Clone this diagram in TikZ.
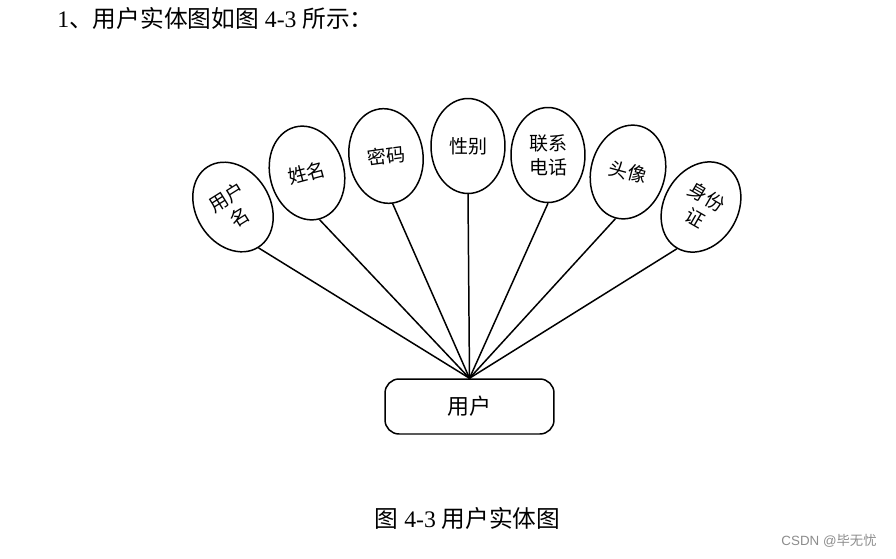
\documentclass[tikz,border=0pt]{standalone}
\usepackage{fontspec}
\setmainfont{Liberation Serif}
\newfontfamily\cjk{Noto Sans CJK SC}
\newfontfamily\wmfont{Liberation Sans}
\usetikzlibrary{shapes.geometric,positioning}

\begin{document}
\begin{tikzpicture}[x=0.02cm,y=-0.02cm,
   attr/.style={ellipse,draw,line width=0.85pt,minimum width=1.48cm,
     minimum height=1.9cm,inner sep=0pt,align=center,
     font=\cjk\fontsize{10.8pt}{13.6pt}\selectfont},
   entity/.style={draw,line width=0.85pt,rounded corners=8pt,
     minimum width=3.38cm,minimum height=1.1cm,
     font=\cjk\fontsize{12.5pt}{15pt}\selectfont}]
  \useasboundingbox (0,0) rectangle (896,558);
  \node[anchor=base west,inner sep=0pt,font=\fontsize{13.5pt}{16pt}\selectfont] (title) at (57,27)
    {1{\cjk 、用户实体图如图} 4-3 {\cjk 所示：}};
  % attributes
  \node[attr,rotate=32]  (a1) at (233,207) {用户\\名};
  \node[attr,rotate=15]  (a2) at (307,173) {姓名};
  \node[attr,rotate=8]   (a3) at (386,156) {密码};
  \node[attr]            (a4) at (468,146) {性别};
  \node[attr]            (a5) at (548,155) {联系\\电话};
  \node[attr,rotate=-15] (a6) at (628,172) {头像};
  \node[attr,rotate=-30] (a7) at (701,207) {身份\\证};
  % entity
  \node[entity] (user) at (469.5,406.5) {用户};
  \foreach \i in {1,...,7}
    \draw[line width=0.85pt] (a\i.south) -- (user.north);
  \node[anchor=base,inner sep=0pt,font=\fontsize{13.5pt}{16pt}\selectfont] (cap) at (467.5,527)
    {{\cjk 图} 4-3 {\cjk 用户实体图}};
  \node[anchor=east,inner sep=0pt,text=black!45,font=\wmfont\fontsize{7.6pt}{9pt}\selectfont] (mark) at (877,541)
    {CSDN @{\cjk 毕无忧}};
\end{tikzpicture}
\end{document}
